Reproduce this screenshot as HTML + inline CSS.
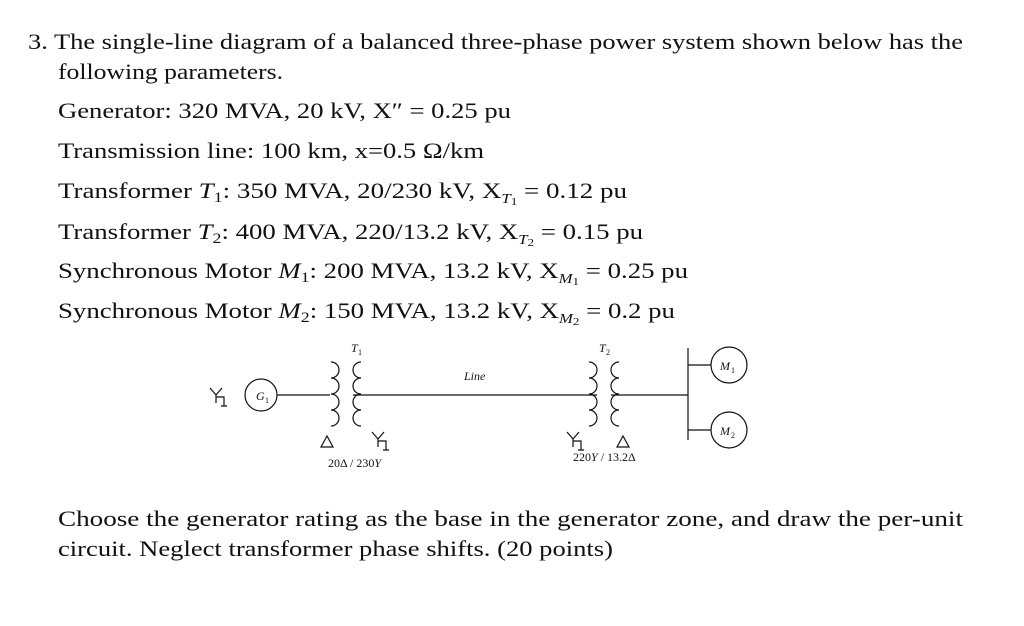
<!DOCTYPE html>
<html><head><meta charset="utf-8"><style>
html,body{margin:0;padding:0;background:#fff;}
svg{display:block}
text{font-family:"Liberation Serif",serif;fill:#111;}
</style></head><body>
<svg width="1024" height="626" viewBox="0 0 1024 626" xmlns="http://www.w3.org/2000/svg">
<g font-size="22.5">
<text x="28" y="49" textLength="935" lengthAdjust="spacingAndGlyphs">3.  The single-line diagram of a balanced three-phase power system shown below has the</text>
<text x="58" y="79" textLength="225" lengthAdjust="spacingAndGlyphs">following parameters.</text>
<text x="58" y="118" textLength="453" lengthAdjust="spacingAndGlyphs">Generator: 320 MVA, 20 kV, X″ = 0.25 pu</text>
<text x="58" y="158" textLength="426" lengthAdjust="spacingAndGlyphs">Transmission line: 100 km, x=0.5 Ω/km</text>
<text x="58" y="198" textLength="569" lengthAdjust="spacingAndGlyphs">Transformer <tspan font-style="italic">T</tspan><tspan font-size="15" dy="4">1</tspan><tspan dy="-4">: 350 MVA, 20/230 kV, X</tspan><tspan font-size="14" font-style="italic" dy="5">T</tspan><tspan font-size="11" dy="2">1</tspan><tspan dy="-7"> = 0.12 pu</tspan></text>
<text x="58" y="239" textLength="585" lengthAdjust="spacingAndGlyphs">Transformer <tspan font-style="italic">T</tspan><tspan font-size="15" dy="4">2</tspan><tspan dy="-4">: 400 MVA, 220/13.2 kV, X</tspan><tspan font-size="14" font-style="italic" dy="5">T</tspan><tspan font-size="11" dy="2">2</tspan><tspan dy="-7"> = 0.15 pu</tspan></text>
<text x="58" y="278" textLength="630" lengthAdjust="spacingAndGlyphs">Synchronous Motor <tspan font-style="italic">M</tspan><tspan font-size="15" dy="4">1</tspan><tspan dy="-4">: 200 MVA, 13.2 kV, X</tspan><tspan font-size="14" font-style="italic" dy="5">M</tspan><tspan font-size="11" dy="2">1</tspan><tspan dy="-7"> = 0.25 pu</tspan></text>
<text x="58" y="318" textLength="617" lengthAdjust="spacingAndGlyphs">Synchronous Motor <tspan font-style="italic">M</tspan><tspan font-size="15" dy="4">2</tspan><tspan dy="-4">: 150 MVA, 13.2 kV, X</tspan><tspan font-size="14" font-style="italic" dy="5">M</tspan><tspan font-size="11" dy="2">2</tspan><tspan dy="-7"> = 0.2 pu</tspan></text>
<text x="58" y="526" textLength="905" lengthAdjust="spacingAndGlyphs">Choose the generator rating as the base in the generator zone, and draw the per-unit</text>
<text x="58" y="556" textLength="555" lengthAdjust="spacingAndGlyphs">circuit. Neglect transformer phase shifts. (20 points)</text>
</g>
<g stroke="#111" stroke-width="1.2" fill="none">
<circle cx="261" cy="395" r="16"/>
<line x1="277" y1="395" x2="330" y2="395"/>
<path d="M210 388 L216 395 L222 388 M216 395 V403 M216 397 H224 V406 M221 406 H227"/>
<path d="M331 362 a8 8 0 0 1 0 16 a8 8 0 0 1 0 16 a8 8 0 0 1 0 16 a8 8 0 0 1 0 16"/>
<path d="M361 362 a8 8 0 0 0 0 16 a8 8 0 0 0 0 16 a8 8 0 0 0 0 16 a8 8 0 0 0 0 16"/>
<line x1="353" y1="395" x2="597" y2="395"/>
<path d="M589 362 a8 8 0 0 1 0 16 a8 8 0 0 1 0 16 a8 8 0 0 1 0 16 a8 8 0 0 1 0 16"/>
<path d="M619 362 a8 8 0 0 0 0 16 a8 8 0 0 0 0 16 a8 8 0 0 0 0 16 a8 8 0 0 0 0 16"/>
<line x1="611" y1="395" x2="688" y2="395"/>
<line x1="688" y1="348" x2="688" y2="440"/>
<line x1="688" y1="365" x2="711" y2="365"/>
<line x1="688" y1="430" x2="711" y2="430"/>
<circle cx="729" cy="365" r="18"/>
<circle cx="729" cy="430" r="18"/>
<path d="M321 447 L327 436 L333 447 Z"/>
<path d="M617 447 L623 436 L629 447 Z"/>
<path d="M372 432 L378 439 L384 432 M378 439 V447 M378 441 H386 V450 M383 450 H389"/>
<path d="M567 432 L573 439 L579 432 M573 439 V447 M573 441 H581 V450 M578 450 H584"/>
</g>
<g font-size="12">
<text x="256" y="400" font-style="italic">G</text><text x="265" y="403" font-size="8">1</text>
<text x="720" y="370" font-style="italic">M</text><text x="731" y="373" font-size="8">1</text>
<text x="720" y="435" font-style="italic">M</text><text x="731" y="438" font-size="8">2</text>
<text x="351" y="352" font-style="italic">T</text><text x="358" y="355" font-size="8">1</text>
<text x="599" y="352" font-style="italic">T</text><text x="606" y="355" font-size="8">2</text>
<text x="464" y="380" font-style="italic">Line</text>
<text x="328" y="467">20Δ / 230<tspan font-style="italic">Y</tspan></text>
<text x="573" y="461">220<tspan font-style="italic">Y</tspan> / 13.2Δ</text>
</g>
</svg>
</body></html>
